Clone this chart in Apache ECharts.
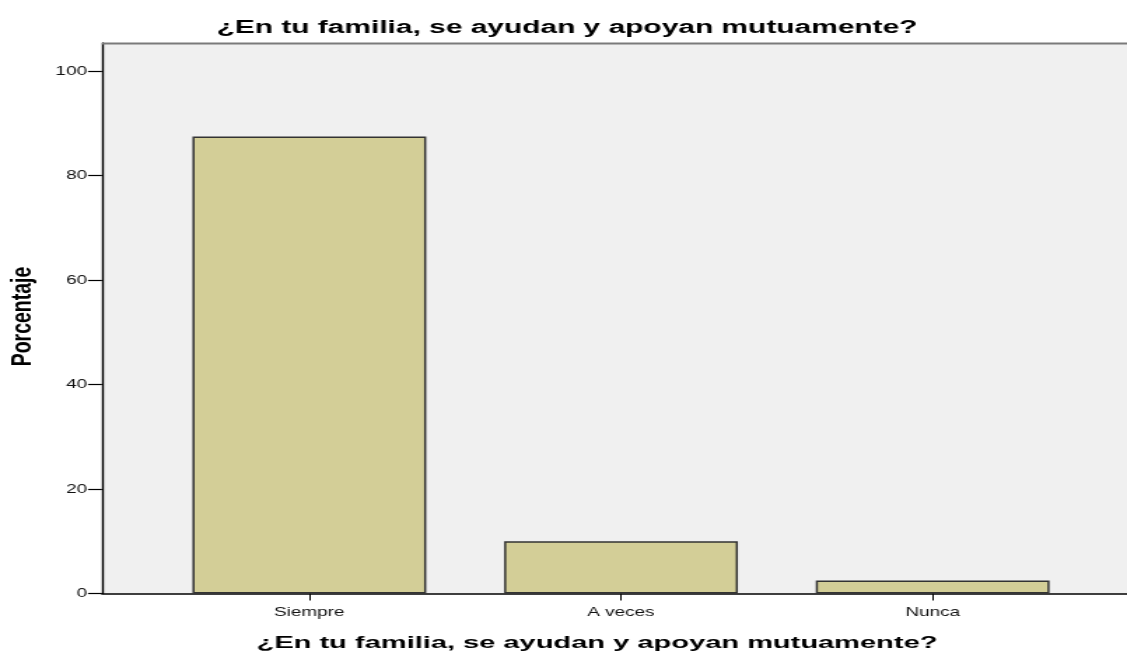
<!DOCTYPE html>
<html><head><meta charset="utf-8">
<script src="https://cdn.jsdelivr.net/npm/echarts@6/dist/echarts.min.js"></script>
<style>html,body{margin:0;padding:0;background:#fff;overflow:hidden;width:1127px;height:657px}
#c{width:805px;height:657px;transform:scaleX(1.4);transform-origin:0 0}</style>
</head><body><div id="c"></div>
<script>
const categories = ['Siempre', 'A veces', 'Nunca'];
const values = [87.5, 10, 2.5];
const yTicks = [0, 20, 40, 60, 80, 100];
const titleText = '¿En tu familia, se ayudan y apoyan mutuamente?';
const yName = 'Porcentaje';

const S = 1.4; // horizontal stretch of the whole picture
const W = 1127 / S;
const px = v => v / S;

const chart = echarts.init(document.getElementById('c'), null, {width: W, height: 657});
const font = 'Arial, "Liberation Sans", sans-serif';
const plotL = px(102), catL = px(153.5), catR = px(1088.5);
chart.setOption({
  animation: false,
  grid: [
    {left: catL, right: W - catR, top: 43, bottom: 63.5, show: false},
    {left: plotL, right: 0, top: 43, bottom: 63.5, show: true, backgroundColor: '#f0f0f0', borderWidth: 0, z: 0}
  ],
  graphic: [
    {type: 'line', shape: {x1: plotL, y1: 43.5, x2: W, y2: 43.5}, style: {stroke: '#7a7a7a', lineWidth: 2}, z: 10},
    {type: 'text', x: px(567), y: 28.5, scaleX: 1.22, z: 20,
     style: {text: titleText, font: 'bold 17.5px ' + font, fill: '#000', textAlign: 'center', textVerticalAlign: 'middle'}},
    {type: 'text', x: px(597), y: 643, scaleX: 1.22, z: 20,
     style: {text: titleText, font: 'bold 17px ' + font, fill: '#000', textAlign: 'center', textVerticalAlign: 'middle'}},
    {type: 'text', x: px(23), y: 316.5, rotation: Math.PI / 2, z: 20,
     style: {text: yName, font: 'bold 19.5px ' + font, fill: '#000', textAlign: 'center', textVerticalAlign: 'middle'}}
  ],
  xAxis: [
    {type: 'category', gridIndex: 0, data: categories,
     axisLine: {show: false},
     axisTick: {show: true, alignWithLabel: true, length: 7, lineStyle: {color: '#000', width: 1}},
     axisLabel: {fontFamily: font, fontSize: 13.5, color: '#111', margin: 12}},
    {type: 'value', gridIndex: 1, min: 0, max: 1,
     axisLine: {show: true, onZero: false, lineStyle: {color: '#000', width: 1.5}},
     axisTick: {show: false}, axisLabel: {show: false}, splitLine: {show: false}}
  ],
  yAxis: [
    {type: 'value', gridIndex: 0, min: 0, max: 105.4, interval: 20, offset: catL - plotL,
     axisLine: {show: true, lineStyle: {color: '#000', width: 1.4}},
     axisTick: {show: true, length: px(14), customValues: yTicks, lineStyle: {color: '#000', width: 1.2}},
     axisLabel: {fontFamily: font, fontSize: 13.5, color: '#111', margin: px(15), customValues: yTicks},
     splitLine: {show: false}},
    {type: 'value', gridIndex: 1, show: false}
  ],
  series: [{
    type: 'bar', xAxisIndex: 0, yAxisIndex: 0, data: values, barWidth: '75%',
    itemStyle: {color: '#d3ce97', borderColor: '#333', borderWidth: 1.5}, z: 5
  }]
});
</script></body></html>
